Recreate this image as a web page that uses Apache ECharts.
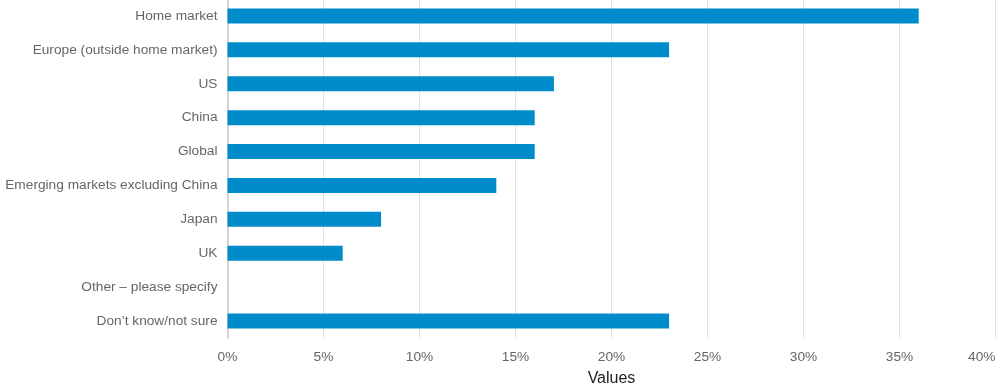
<!DOCTYPE html>
<html><head><meta charset="utf-8">
<script src="https://cdn.jsdelivr.net/npm/echarts@6/dist/echarts.min.js"></script>
<style>html,body{margin:0;padding:0;background:#fff}#c{width:1000px;height:387px}</style>
</head><body><div id="c"></div>
<script>
const categories = ["Home market","Europe (outside home market)","US","China","Global","Emerging markets excluding China","Japan","UK","Other \u2013 please specify","Don\u2019t know/not sure"];
const values = [36,23,17,16,16,14,8,6,0,23];
const xTicks = [0,5,10,15,20,25,30,35,40];

const chart = echarts.init(document.getElementById('c'), null, {renderer:'canvas'});
chart.setOption({
  animation:false,
  textStyle:{fontFamily:'"Liberation Sans", Arial, sans-serif'},
  grid:{left:227.5,right:4.5,top:-1,bottom:49,containLabel:false,outerBoundsMode:'none'},
  xAxis:{
    type:'value',min:xTicks[0],max:xTicks[xTicks.length-1],interval:5,
    name:'Values',nameLocation:'middle',nameGap:33,
    nameTextStyle:{fontSize:16,color:'#222',fontFamily:'"Liberation Sans", Arial, sans-serif'},
    axisLine:{show:false},axisTick:{show:false},
    axisLabel:{formatter:v=>v+'%',fontSize:13.7,color:'#666',margin:12,alignMaxLabel:'right'},
    splitLine:{show:true,lineStyle:{color:'#e0e0e0',width:1}}
  },
  yAxis:{
    type:'category',data:categories,inverse:true,
    axisLine:{show:true,lineStyle:{color:'#cccccc',width:1.5}},
    axisTick:{show:false},
    axisLabel:{fontSize:13.7,color:'#666',margin:10}
  },
  series:[{type:'bar',data:values,barWidth:15,itemStyle:{color:'#008BCA'}}]
});
</script></body></html>
